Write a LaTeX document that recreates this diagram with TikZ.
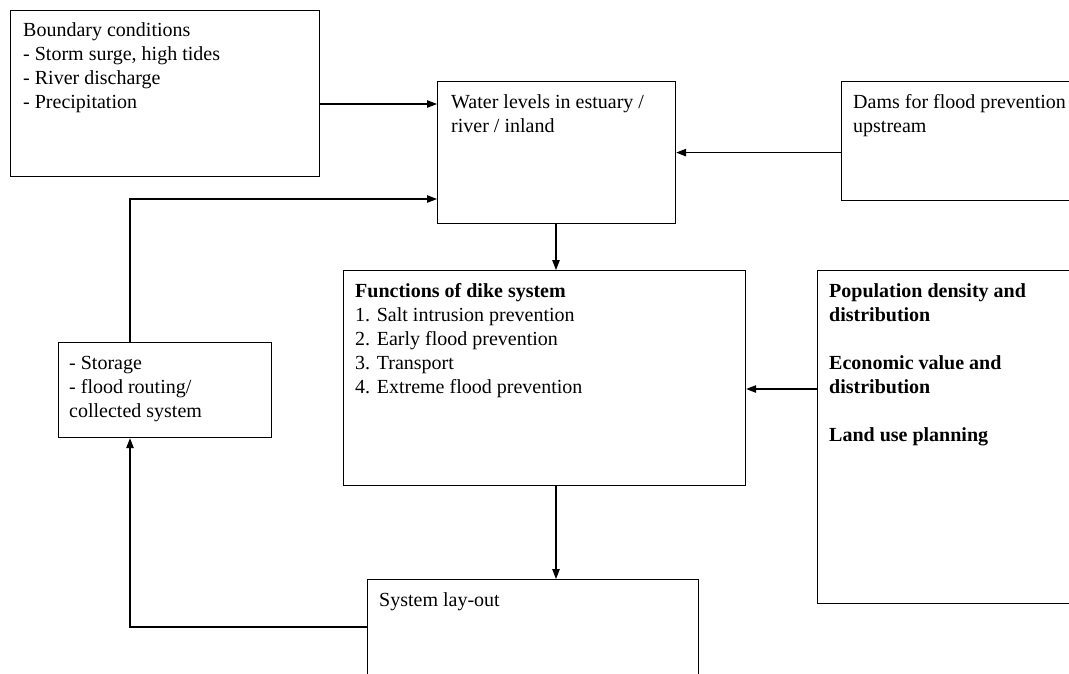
\documentclass[tikz,border=0pt]{standalone}
\usepackage{fontspec}
\setmainfont{Liberation Serif}
\usetikzlibrary{arrows.meta}
\begin{document}
\begin{tikzpicture}[x=1pt,y=-1pt,
 box/.style={draw, line width=1.2pt, inner sep=0pt, anchor=north west},
 txt/.style={inner sep=0pt, anchor=north west, align=left, font=\fontsize{20}{24}\selectfont},
 arr/.style={line width=1.2pt, -{Triangle[length=10pt,width=7.5pt]}},
 ln/.style={line width=1.2pt}]
\useasboundingbox (0,0) rectangle (1069,673);
\clip (0,0) rectangle (1069,673);
\fill[white] (0,0) rectangle (1069,673);
% boxes
\node[box, minimum width=309pt, minimum height=166pt] (bc) at (10,10) {};
\node[box, minimum width=238pt, minimum height=142pt] (wl) at (437,81) {};
\node[box, minimum width=250pt, minimum height=119pt] (dams) at (841,81) {};
\node[box, minimum width=402pt, minimum height=215pt] (fn) at (343,270) {};
\node[box, minimum width=270pt, minimum height=333pt] (pop) at (817,270) {};
\node[box, minimum width=213pt, minimum height=95pt] (st) at (58,342) {};
\node[box, minimum width=331pt, minimum height=120pt] (sys) at (367,579) {};
% texts
\node[txt, xshift=13pt, yshift=-9pt] (bct) at (bc.north west) {\strut Boundary conditions\\- Storm surge, high tides\\- River discharge\\- Precipitation};
\node[txt, xshift=14pt, yshift=-10pt] (wlt) at (wl.north west) {\strut Water levels in estuary /\\river / inland};
\node[txt, xshift=12pt, yshift=-10pt] (damst) at (dams.north west) {\strut Dams for flood prevention\\upstream};
\node[txt, xshift=12pt, yshift=-10pt] (fnt) at (fn.north west) {\strut\textbf{Functions of dike system}\\1. Salt intrusion prevention\\2. Early flood prevention\\3. Transport\\4. Extreme flood prevention};
\node[txt, xshift=12pt, yshift=-10pt] (popt) at (pop.north west) {\strut\textbf{Population density and}\\\textbf{distribution}\\[24pt]\textbf{Economic value and}\\\textbf{distribution}\\[24pt]\textbf{Land use planning}};
\node[txt, xshift=11pt, yshift=-10pt] (stt) at (st.north west) {\strut - Storage\\- flood routing/\\collected system};
\node[txt, xshift=12pt, yshift=-10pt] (syst) at (sys.north west) {\strut System lay-out};
% helper coordinates
\coordinate (c1) at (130,199);
\coordinate (c2) at (0,389);
\coordinate (c3) at (556,0);
\coordinate (c4) at (130,627);
\coordinate (c5) at (0,104);
% connectors
\draw[arr] (bc.east |- c5) -- (wl.west |- c5);
\draw[arr] (dams.west |- wl.east) -- (wl.east);
\draw[arr] (st.north -| c1) -- (c1) -- (c1 -| wl.west);
\draw[arr] (wl.south -| c3) -- (fn.north -| c3);
\draw[arr] (pop.west |- c2) -- (fn.east |- c2);
\draw[arr] (fn.south -| c3) -- (sys.north -| c3);
\draw[arr] (sys.west |- c4) -- (c4) -- (st.south -| c4);
\end{tikzpicture}
\end{document}
